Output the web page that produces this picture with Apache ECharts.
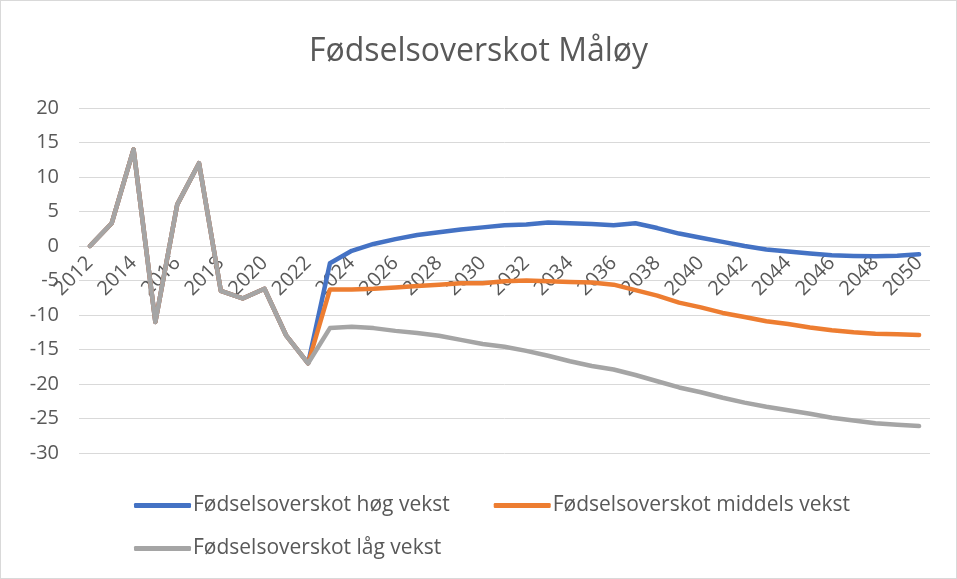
<!DOCTYPE html>
<html>
<head>
<meta charset="utf-8">
<script src="https://cdn.jsdelivr.net/npm/echarts@6/dist/echarts.min.js"></script>
<style>
  html, body { margin: 0; padding: 0; background: #fff; }
  #chart { width: 955px; height: 577px; border: 1px solid #d9d9d9; }
</style>
</head>
<body>
<div id="chart"></div>
<script>
const years = [];
for (let y = 2012; y <= 2050; y++) years.push(String(y));

// registrert 2012-2022, felles for alle tre
const history = [0, 3.3, 14, -11, 6, 12, -6.5, -7.6, -6.2, -13, -17];

const hogVekst = [-2.5, -0.7, 0.3, 1.0, 1.6, 2.0, 2.4, 2.7, 3.0, 3.1, 3.4, 3.3, 3.2, 3.0, 3.3,
  2.6, 1.8, 1.2, 0.6, 0.0, -0.5, -0.8, -1.1, -1.35, -1.45, -1.5, -1.4, -1.2];
const middelsVekst = [-6.3, -6.3, -6.2, -6.0, -5.8, -5.6, -5.4, -5.4, -5.1, -5.0, -5.1, -5.2, -5.3, -5.6, -6.4,
  -7.2, -8.2, -8.9, -9.7, -10.3, -10.9, -11.3, -11.8, -12.2, -12.5, -12.7, -12.8, -12.9];
const lagVekst = [-11.9, -11.7, -11.9, -12.3, -12.6, -13.0, -13.6, -14.2, -14.6, -15.2, -15.9, -16.7, -17.4, -17.9, -18.7,
  -19.6, -20.5, -21.2, -22.0, -22.7, -23.3, -23.8, -24.3, -24.9, -25.3, -25.7, -25.9, -26.1];

const names = ['Fødselsoverskot høg vekst', 'Fødselsoverskot middels vekst', 'Fødselsoverskot låg vekst'];
const colors = ['#4472C4', '#ED7D31', '#A5A5A5'];
const font = 'Open Sans';

function makeSeries(name, color, future) {
  return {
    name: name,
    type: 'line',
    data: history.concat(future),
    showSymbol: false,
    lineStyle: { color: color, width: 4.5, cap: 'round', join: 'round' },
    itemStyle: { color: color }
  };
}

const legendText = { fontFamily: font, fontSize: 21, color: '#595959', padding: [0, 0, 0, -3] };

const chart = echarts.init(document.getElementById('chart'));
chart.setOption({
  animation: false,
  textStyle: { fontFamily: font },
  title: {
    text: 'Fødselsoverskot Måløy',
    left: 'center',
    top: 30,
    textStyle: { fontFamily: font, fontSize: 32, fontWeight: 'normal', color: '#595959' }
  },
  legend: [{
    data: names.slice(0, 2),
    left: 133,
    top: 494,
    padding: 0,
    itemGap: 44,
    itemWidth: 57,
    itemHeight: 5,
    icon: 'roundRect',
    textStyle: legendText
  }, {
    data: names.slice(2),
    left: 133,
    top: 537,
    padding: 0,
    itemWidth: 57,
    itemHeight: 5,
    icon: 'roundRect',
    textStyle: legendText
  }],
  grid: { left: 78, right: 26, top: 107, bottom: 125 },
  xAxis: {
    type: 'category',
    data: years,
    boundaryGap: true,
    offset: -207,
    axisLine: { show: false, onZero: false },
    axisTick: { show: false },
    axisLabel: { interval: 1, rotate: 45, margin: 14, fontSize: 20, color: '#595959', fontFamily: font }
  },
  yAxis: {
    type: 'value',
    min: -30,
    max: 20,
    interval: 5,
    axisLine: { show: false },
    axisTick: { show: false },
    axisLabel: { fontSize: 20, color: '#595959', margin: 20, fontFamily: font },
    splitLine: { lineStyle: { color: '#d9d9d9', width: 1 } }
  },
  series: [
    makeSeries(names[0], colors[0], hogVekst),
    makeSeries(names[1], colors[1], middelsVekst),
    makeSeries(names[2], colors[2], lagVekst)
  ]
});
</script>
</body>
</html>
